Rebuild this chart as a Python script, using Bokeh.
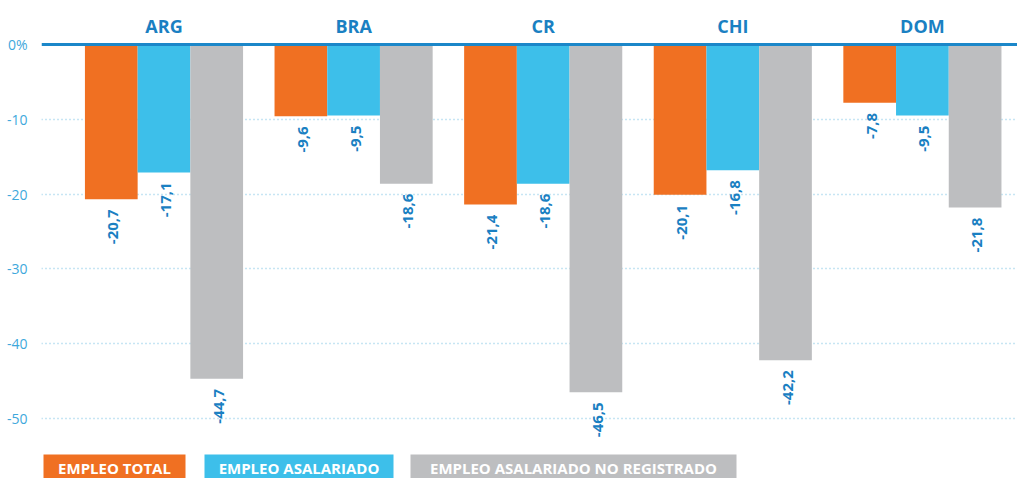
import math
from bokeh.plotting import figure
from bokeh.models import Range1d, FixedTicker, Span, ColumnDataSource
from bokeh.core.properties import value
from bokeh.embed import file_html
from bokeh.resources import INLINE

# ---------------- data ----------------
countries = ["ARG", "BRA", "CR", "CHI", "DOM"]
empleo_total = [-20.7, -9.6, -21.4, -20.1, -7.8]
empleo_asalariado = [-17.1, -9.5, -18.6, -16.8, -9.5]
empleo_no_registrado = [-44.7, -18.6, -46.5, -42.2, -21.8]
series_names = ["EMPLEO TOTAL", "EMPLEO ASALARIADO", "EMPLEO ASALARIADO NO REGISTRADO"]
y_ticks = [0, -10, -20, -30, -40, -50]
y_tick_labels = ["0%", "-10", "-20", "-30", "-40", "-50"]

# ---------------- style / layout ----------------
COLORS = ["#f07022", "#3dbfea", "#bdbec0"]
DARK_BLUE = "#1a80c2"
TICK_BLUE = "#3ea8dc"
GRID_BLUE = "#8fcbe8"
FONT = "Open Sans"

FIG_W, FIG_H = 1017, 478
BORDER_L = 41
FRAME_W = FIG_W - BORDER_L
PAGE_X0, PAGE_Y0 = 0, 0
ZERO_PX = 44.0          # zero line distance from frame top
PX_PER_UNIT_Y = 7.48
GROUP0_PX = 122.5       # first group centre from frame left
GROUP_STEP_PX = 189.6
BAR_W = 0.278

y_top = ZERO_PX / PX_PER_UNIT_Y
y_bot = -(FIG_H - ZERO_PX) / PX_PER_UNIT_Y
x_left = -GROUP0_PX / GROUP_STEP_PX
x_right = (FRAME_W - GROUP0_PX) / GROUP_STEP_PX


def px2x(page_px):
    return (page_px - PAGE_X0 - BORDER_L - GROUP0_PX) / GROUP_STEP_PX


def px2y(page_py):
    return (ZERO_PX + PAGE_Y0 - page_py) / PX_PER_UNIT_Y


p = figure(width=FIG_W, height=FIG_H, output_backend="svg", toolbar_location=None,
           x_range=Range1d(x_left, x_right), y_range=Range1d(y_bot, y_top),
           x_axis_location=None, min_border_left=BORDER_L, min_border_right=0,
           min_border_top=0, min_border_bottom=0)
p.outline_line_color = None
p.background_fill_color = "white"
p.border_fill_color = "white"

# y axis
p.yaxis.ticker = FixedTicker(ticks=y_ticks)
p.yaxis.major_label_overrides = {t: lab for t, lab in zip(y_ticks, y_tick_labels)}
p.yaxis.axis_line_color = None
p.yaxis.major_tick_line_color = None
p.yaxis.minor_tick_line_color = None
p.yaxis.major_tick_in = 0
p.yaxis.major_tick_out = 0
p.yaxis.major_label_standoff = 14
p.yaxis.major_label_text_color = TICK_BLUE
p.yaxis.major_label_text_font = FONT
p.yaxis.major_label_text_font_size = "14px"

p.ygrid.ticker = FixedTicker(ticks=y_ticks[1:])
p.ygrid.grid_line_color = GRID_BLUE
p.ygrid.grid_line_dash = "1 3"
p.ygrid.grid_line_width = 1.3
p.xgrid.visible = False

# bars and value labels
series = [empleo_total, empleo_asalariado, empleo_no_registrado]
offsets = [-BAR_W, 0.0, BAR_W]
for vals, off, col in zip(series, offsets, COLORS):
    xs = [i + off for i in range(len(countries))]
    src = ColumnDataSource(dict(x=xs, top=[0] * len(vals), bottom=vals,
                                lab=[f"{v:.1f}".replace(".", ",") for v in vals]))
    p.vbar(x="x", width=BAR_W, top="top", bottom="bottom", source=src,
           fill_color=col, line_color=None)
    p.text(x="x", y="bottom", text="lab", source=src, angle=math.pi / 2,
           text_align="right", text_baseline="middle", x_offset=2, y_offset=10,
           text_font=value(FONT), text_font_style="bold", text_font_size="15px",
           text_color=DARK_BLUE)

# zero line
p.add_layout(Span(location=0, dimension="width", line_color="#1b87c9", line_width=3))

# country headers
p.text(x=list(range(len(countries))), y=[px2y(25)] * len(countries), text=countries,
       text_align="center", text_baseline="middle", text_font=value(FONT),
       text_font_style="bold", text_font_size="18px", text_color=DARK_BLUE)

# legend boxes (layout in page pixels)
legend_boxes = [(43, 185), (204, 393), (410, 736)]
leg_top, leg_bot, leg_mid = 454, 478, 467
p.quad(left=[px2x(a) for a, b in legend_boxes], right=[px2x(b) for a, b in legend_boxes],
       top=[px2y(leg_top)] * 3, bottom=[px2y(leg_bot)] * 3,
       fill_color=COLORS, line_color=None)
p.text(x=[px2x((a + b) / 2) for a, b in legend_boxes], y=[px2y(leg_mid)] * 3,
       text=series_names, text_align="center", text_baseline="middle",
       text_font=value(FONT), text_font_style="bold", text_font_size="15px",
       text_color="white")

open("out.html", "w").write(file_html(p, INLINE))
